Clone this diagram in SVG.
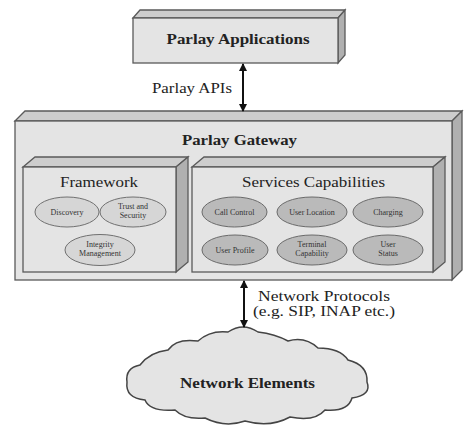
<svg xmlns="http://www.w3.org/2000/svg" width="465" height="430" viewBox="0 0 465 430">
  <style>
    .front { fill: #e4e4e4; stroke: #5a5a5a; stroke-width: 1.3; }
    .top { fill: #cdcdcd; stroke: #5a5a5a; stroke-width: 1.3; }
    .side { fill: #b0b0b0; stroke: #5a5a5a; stroke-width: 1.3; }
    .t { font-family: "Liberation Serif", "Times New Roman", serif; fill: #222; }
    .b { font-weight: bold; }
    .fw { fill: #d6d6d6; stroke: #707070; stroke-width: 1; }
    .sc { fill: #bababa; stroke: #6a6a6a; stroke-width: 1; }
    .small { font-family: "Liberation Serif", "Times New Roman", serif; font-size: 8px; fill: #333; text-anchor: middle; }
    .conn { stroke: #111; stroke-width: 2; fill: none; }
  </style>
  <defs>
    <marker id="head" viewBox="0 0 8 8" refX="7" refY="4" markerWidth="8" markerHeight="8" markerUnits="userSpaceOnUse" orient="auto-start-reverse">
      <path d="M0,0 L8,4 L0,8 z" fill="#111"/>
    </marker>
  </defs>

  <rect width="465" height="430" fill="#ffffff"/>

  <!-- Parlay Applications -->
  <g id="parlay-applications">
    <polygon class="top" points="133,18 140,10 345,10 338,18"/>
    <polygon class="side" points="338,18 345,10 345,55 338,63"/>
    <rect class="front" x="133" y="18" width="205" height="45"/>
    <text class="t b" x="238" y="44" font-size="15" text-anchor="middle" textLength="143" lengthAdjust="spacingAndGlyphs">Parlay Applications</text>
  </g>

  <!-- Parlay Gateway -->
  <g id="parlay-gateway">
    <polygon class="top" points="15,121 25,111 462,111 452,121"/>
    <polygon class="side" points="452,121 462,111 462,270 452,280"/>
    <rect class="front" x="15" y="121" width="437" height="159"/>
    <text class="t b" x="239.5" y="145" font-size="15" text-anchor="middle" textLength="115" lengthAdjust="spacingAndGlyphs">Parlay Gateway</text>
  </g>

  <!-- Framework -->
  <g id="framework">
    <polygon class="top" points="23,167 35,157 188,157 176,167"/>
    <polygon class="side" points="176,167 188,157 188,262 176,272"/>
    <rect class="front" x="23" y="167" width="153" height="105"/>
    <text class="t" x="99" y="187" font-size="15" text-anchor="middle" textLength="78" lengthAdjust="spacingAndGlyphs">Framework</text>
    <g id="discovery">
      <ellipse class="fw" cx="67" cy="212" rx="32" ry="15"/>
      <text class="small" x="67" y="215">Discovery</text>
    </g>
    <g id="trust-security">
      <ellipse class="fw" cx="133" cy="212" rx="33" ry="15"/>
      <text class="small" x="133" y="209">Trust and</text>
      <text class="small" x="133" y="218">Security</text>
    </g>
    <g id="integrity-management">
      <ellipse class="fw" cx="100" cy="250" rx="35" ry="15.5"/>
      <text class="small" x="100" y="247">Integrity</text>
      <text class="small" x="100" y="256">Management</text>
    </g>
  </g>

  <!-- Services Capabilities -->
  <g id="services-capabilities">
    <polygon class="top" points="192,167 204,157 445,157 433,167"/>
    <polygon class="side" points="433,167 445,157 445,262 433,272"/>
    <rect class="front" x="192" y="167" width="241" height="105"/>
    <text class="t" x="313.5" y="187" font-size="15" text-anchor="middle" textLength="143" lengthAdjust="spacingAndGlyphs">Services Capabilities</text>
    <g id="call-control">
      <ellipse class="sc" cx="234.5" cy="212" rx="32.5" ry="15"/>
      <text class="small" x="234.5" y="215">Call Control</text>
    </g>
    <g id="user-location">
      <ellipse class="sc" cx="312" cy="212" rx="35" ry="15"/>
      <text class="small" x="312" y="215">User Location</text>
    </g>
    <g id="charging">
      <ellipse class="sc" cx="388" cy="212" rx="35" ry="15"/>
      <text class="small" x="388" y="215">Charging</text>
    </g>
    <g id="user-profile">
      <ellipse class="sc" cx="235" cy="250" rx="33" ry="15"/>
      <text class="small" x="235" y="253">User Profile</text>
    </g>
    <g id="terminal-capability">
      <ellipse class="sc" cx="312" cy="250" rx="35" ry="15"/>
      <text class="small" x="312" y="247">Terminal</text>
      <text class="small" x="312" y="256">Capability</text>
    </g>
    <g id="user-status">
      <ellipse class="sc" cx="388" cy="250" rx="35" ry="15"/>
      <text class="small" x="388" y="247">User</text>
      <text class="small" x="388" y="256">Status</text>
    </g>
  </g>

  <!-- Network Elements cloud -->
  <g id="network-elements">
    <path d="M127,382 Q125,368 140,365 Q150,352 168,350 Q176,338 198,341 Q210,330 228,332 Q243,322 258,332 Q275,334 288,341 Q305,336 318,348 Q340,348 348,360 Q368,365 367,382 Q372,395 352,398 Q348,412 325,410 Q315,422 290,417 Q270,428 245,421 Q225,428 205,418 Q185,420 175,410 Q150,412 145,400 Q125,398 127,382 Z" fill="#e4e4e4" stroke="#444" stroke-width="1.5"/>
    <text class="t b" x="247.5" y="388" font-size="14" text-anchor="middle" textLength="135" lengthAdjust="spacingAndGlyphs">Network Elements</text>
  </g>

  <!-- Connectors -->
  <g id="connectors">
    <line class="conn" x1="243" y1="64" x2="243" y2="111" marker-start="url(#head)" marker-end="url(#head)"/>
    <text class="t" x="232" y="93" font-size="14" text-anchor="end" textLength="80" lengthAdjust="spacingAndGlyphs">Parlay APIs</text>
    <line class="conn" x1="244" y1="281" x2="244" y2="327" marker-start="url(#head)" marker-end="url(#head)"/>
    <text class="t" x="258" y="301" font-size="14" textLength="132" lengthAdjust="spacingAndGlyphs">Network Protocols</text>
    <text class="t" x="253" y="316" font-size="14" textLength="142" lengthAdjust="spacingAndGlyphs">(e.g. SIP, INAP etc.)</text>
  </g>
</svg>
